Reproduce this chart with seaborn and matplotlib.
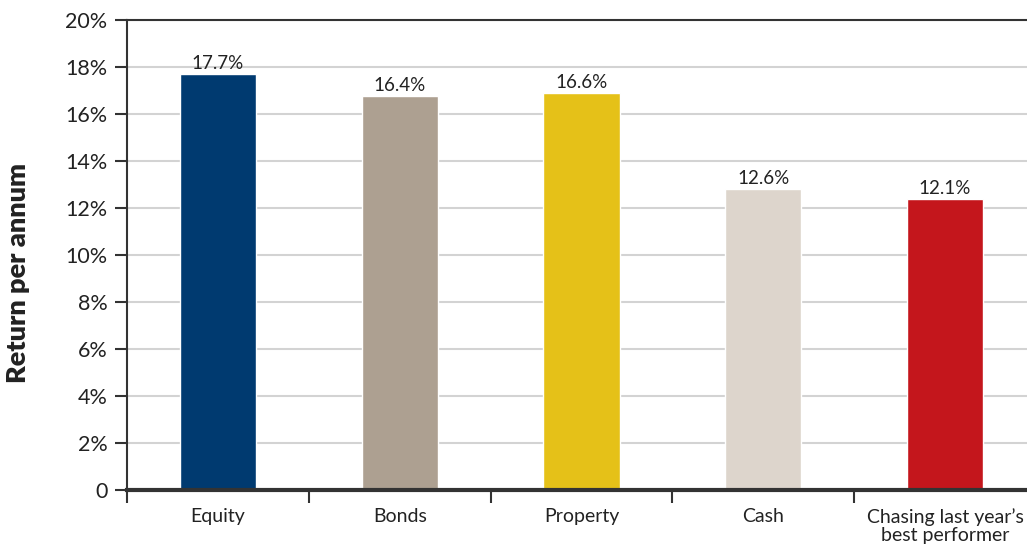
import matplotlib
matplotlib.use("Agg")
import matplotlib.pyplot as plt
import seaborn as sns
import pandas as pd
from matplotlib.ticker import FixedLocator

# data
categories = ["Equity", "Bonds", "Property", "Cash", "Chasing last year\u2019s\nbest performer"]
bar_heights = [17.7, 16.75, 16.9, 12.8, 12.4]
value_labels = ["17.7%", "16.4%", "16.6%", "12.6%", "12.1%"]
colors = ["#003A70", "#ADA091", "#E5C118", "#DDD5CC", "#C4161C"]
y_ticks = [0, 2, 4, 6, 8, 10, 12, 14, 16, 18, 20]
y_tick_labels = ["0"] + [f"{t}%" for t in y_ticks[1:]]

sns.set_theme(style="white")
plt.rcParams["font.family"] = ["Lato", "DejaVu Sans"]

df = pd.DataFrame({"category": categories, "value": bar_heights})

fig = plt.figure(figsize=(10.27, 5.51), dpi=100)
ax = fig.add_axes([0.1237, 0.1107, 0.885, 0.853])

sns.barplot(data=df, x="category", y="value", hue="category", palette=colors,
            width=0.42, legend=False, ax=ax, saturation=1)

ax.set_ylim(0, 20)
ax.set_xlim(-0.5, len(categories) - 0.5)
ax.set_yticks(y_ticks)
ax.set_yticklabels(y_tick_labels, fontsize=15.5, color="#222222")
ax.yaxis.grid(True, color="#D3D3D3", linewidth=1.5)
ax.set_axisbelow(True)

# category boundaries get the ticks, labels sit in the middle
ax.set_xticks(range(len(categories)))
ax.set_xticklabels(categories, fontsize=14, color="#222222", linespacing=1.05)
ax.xaxis.set_minor_locator(FixedLocator([i - 0.5 for i in range(len(categories))]))
ax.tick_params(axis="x", which="major", length=0, pad=13)
ax.tick_params(axis="x", which="minor", length=9, width=1.5, color="#333333", direction="out", bottom=True)
ax.tick_params(axis="y", length=9, width=1.5, color="#333333", direction="out", left=True, pad=5)

for s in ["left", "top"]:
    ax.spines[s].set_color("#333333")
    ax.spines[s].set_linewidth(1.5)
ax.spines["bottom"].set_color("#333333")
ax.spines["bottom"].set_linewidth(3)
ax.spines["right"].set_visible(False)

for i, (h, lab) in enumerate(zip(bar_heights, value_labels)):
    ax.text(i, h + 0.08, lab, ha="center", va="bottom", fontsize=13.5, color="#222222")

ax.set_xlabel("")
ax.set_ylabel("Return per annum", fontsize=19.5, fontweight="heavy", color="#222222")
ax.yaxis.set_label_coords(-0.107, 0.462)

fig.savefig("out.png", dpi=100)
